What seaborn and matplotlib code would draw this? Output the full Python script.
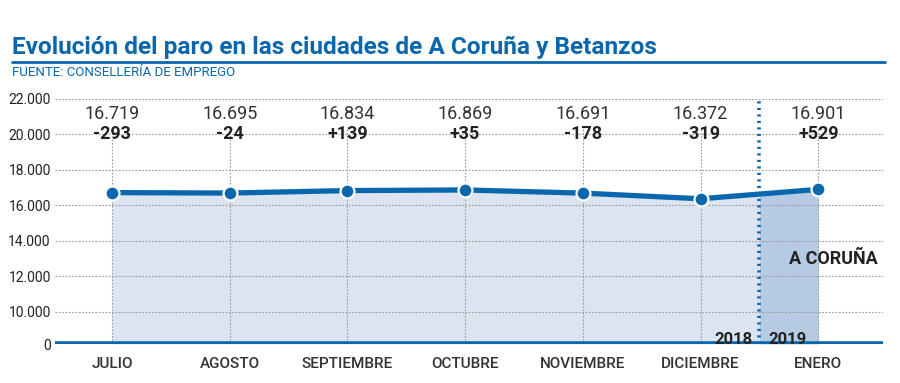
import numpy as np
import pandas as pd
import seaborn as sns
import matplotlib.pyplot as plt
from matplotlib import font_manager

# Data
meses = ["JULIO", "AGOSTO", "SEPTIEMBRE", "OCTUBRE", "NOVIEMBRE", "DICIEMBRE", "ENERO"]
parados = [16719, 16695, 16834, 16869, 16691, 16372, 16901]
variacion = ["-293", "-24", "+139", "+35", "-178", "-319", "+529"]
etiquetas = ["16.719", "16.695", "16.834", "16.869", "16.691", "16.372", "16.901"]
y_ticks = [0, 10000, 12000, 14000, 16000, 18000, 20000, 22000]
y_labels = ["0", "10.000", "12.000", "14.000", "16.000", "18.000", "20.000", "22.000"]

sns.set_style("white")
names = {f.name for f in font_manager.fontManager.ttflist}
narrow = "Liberation Sans Narrow" if "Liberation Sans Narrow" in names else "Roboto"
plt.rcParams["font.family"] = [narrow, "DejaVu Sans"]

BLUE = "#0a67ad"
DARK = "#222222"
LIGHT = "#dbe4f0"
MID = "#b6cbe3"


# broken axis: 0-10000 squeezed, then linear per 2000
def fwd(v):
    v = np.asarray(v, dtype=float)
    return np.where(v <= 10000, v / 10000 * 0.91, 0.91 + (v - 10000) / 2000)


def inv(f):
    f = np.asarray(f, dtype=float)
    return np.where(f <= 0.91, f / 0.91 * 10000, 10000 + (f - 0.91) * 2000)


df = pd.DataFrame({"mes": meses, "x": range(len(meses)), "parados": parados})

fig = plt.figure(figsize=(9, 3.83), dpi=100)
ax = fig.add_axes([55 / 900, 39 / 383, 828 / 900, 245 / 383])
ax.set_yscale("function", functions=(fwd, inv))

# fills
split = 5.5
mid = (parados[5] + parados[6]) / 2
xs = list(range(6)) + [split]
ys = parados[:6] + [mid]
ax.fill_between(xs, 0, ys, color=LIGHT, lw=0, zorder=1)
ax.fill_between([split, 6], 0, [mid, parados[6]], color=MID, lw=0, zorder=1)

# grid
for t in y_ticks[1:]:
    ax.axhline(t, color="#9a9a9a", lw=0.8, ls=(0, (1.5, 1.5)), zorder=2)
ax.vlines(df["x"], 0, 20400, color="#9a9a9a", lw=0.8, linestyles=(0, (1.5, 1.5)), zorder=2)

sns.lineplot(data=df, x="x", y="parados", color=BLUE, lw=3.8, marker="o",
             markersize=10, markeredgecolor="white", markeredgewidth=1.6,
             ax=ax, zorder=5)

# separator 2018 / 2019
ax.vlines(split, 0, 22000, color=BLUE, lw=2.6, linestyles=(0, (0.6, 1.2)),
          zorder=4)
ax.axhline(0, color=BLUE, lw=4, zorder=6)

for i in range(len(meses)):
    ax.text(i, 21150, etiquetas[i], ha="center", va="center", fontsize=13,
            color="#333333", zorder=7)
    ax.text(i, 20050, variacion[i], ha="center", va="center", fontsize=13,
            fontweight="bold", color=DARK, zorder=7)

ax.text(6.13, 13000, "A CORUÑA", ha="center", va="center", fontsize=13,
        fontweight="bold", color=DARK, zorder=7)
ax.text(split - 0.06, 1500, "2018", ha="right", va="center", fontsize=12,
        fontweight="bold", color=DARK, zorder=7)
ax.text(split + 0.08, 1500, "2019", ha="left", va="center", fontsize=12,
        fontweight="bold", color=DARK, zorder=7)

ax.set_xlim(-0.484, 6.55)
ax.set_ylim(0, 22000)
ax.set_yticks(y_ticks)
ax.set_yticklabels(y_labels, fontsize=10, color=DARK)
ax.set_xticks(range(len(meses)))
ax.set_xticklabels(meses, fontsize=11, fontweight="medium", color="#333333")
ax.tick_params(length=0, pad=3)
ax.tick_params(axis="x", pad=9)
ax.set_xlabel("")
ax.set_ylabel("")
sns.despine(ax=ax, left=True, bottom=True)

fig.text(12 / 900, 1 - 47 / 383, "Evolución del paro en las ciudades de A Coruña y Betanzos",
         fontsize=17.6, fontweight="bold", color=BLUE, va="center", ha="left")
fig.add_artist(plt.Line2D([12 / 900, 885 / 900], [1 - 62 / 383, 1 - 62 / 383],
                          color=BLUE, lw=2))
fig.text(12 / 900, 1 - 72 / 383, "FUENTE: CONSELLERÍA DE EMPREGO",
         fontsize=9.5, color=BLUE, va="center", ha="left")

fig.savefig("out.png", dpi=100)
